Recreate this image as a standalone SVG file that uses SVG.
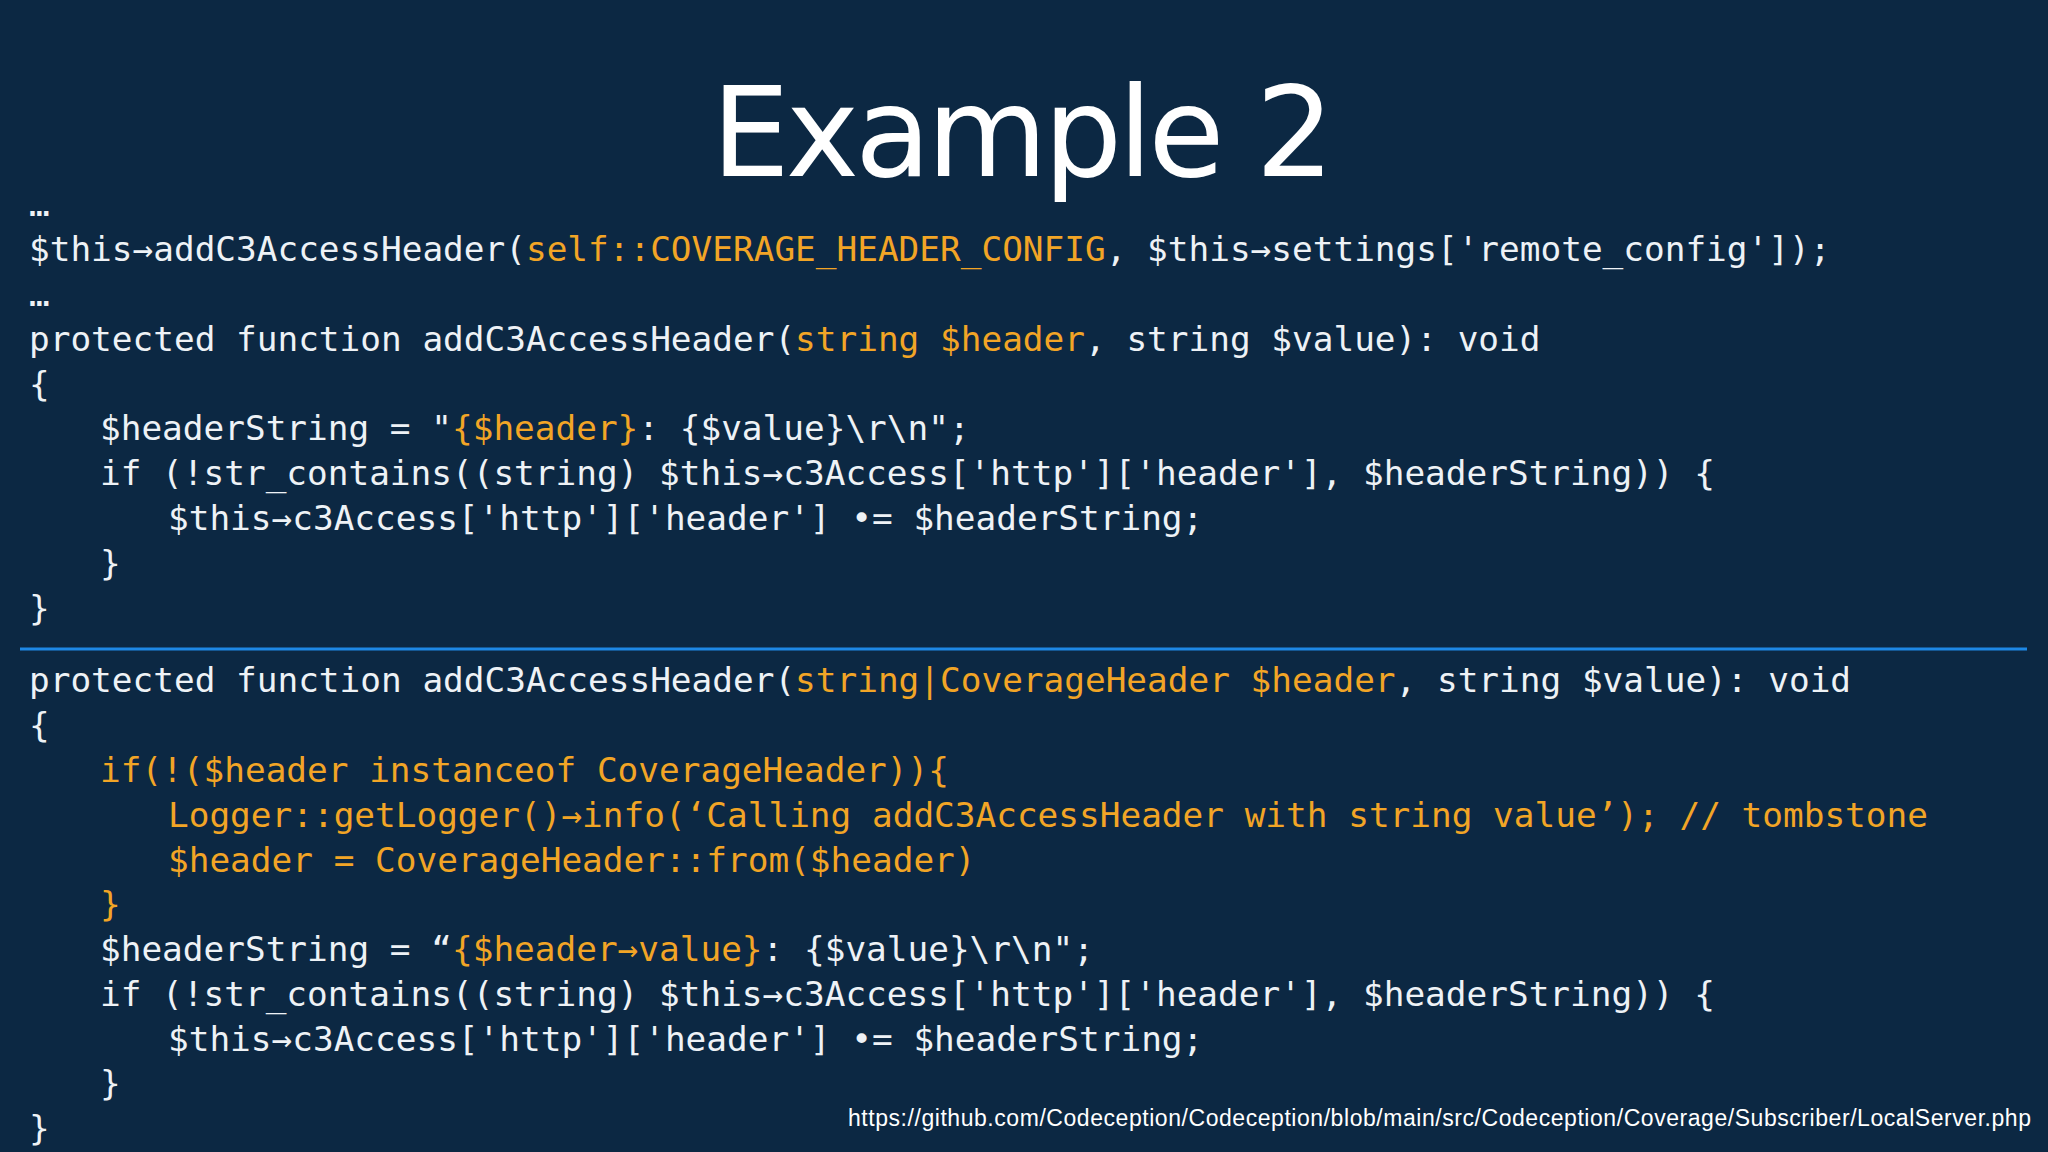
<svg xmlns="http://www.w3.org/2000/svg" width="2048" height="1152" viewBox="0 0 2048 1152">
<style>
.c{font-family:"DejaVu Sans Mono","Liberation Mono",monospace;font-size:34.4px;fill:#eef2f6;white-space:pre}
.o{fill:#f2a526}
</style>
<rect width="2048" height="1152" fill="#0c2843"/>
<g id="title"><text x="1023" y="176" text-anchor="middle" font-family="DejaVu Sans, sans-serif" font-size="124" fill="#ffffff" textLength="623">Example 2</text></g>
<g id="code-before">
<text class="c" x="29" y="216">…</text>
<text class="c" x="29" y="261">$this→addC3AccessHeader(<tspan class="o">self::COVERAGE_HEADER_CONFIG</tspan>, $this→settings['remote_config']);</text>
<text class="c" x="29" y="306">…</text>
<text class="c" x="29" y="351">protected function addC3AccessHeader(<tspan class="o">string $header</tspan>, string $value): void</text>
<text class="c" x="29" y="396">{</text>
<text class="c" x="100" y="440">$headerString = "<tspan class="o">{$header}</tspan>: {$value}\r\n";</text>
<text class="c" x="100" y="485">if (!str_contains((string) $this→c3Access['http']['header'], $headerString)) {</text>
<text class="c" x="168" y="530">$this→c3Access['http']['header'] •= $headerString;</text>
<text class="c" x="100" y="575">}</text>
<text class="c" x="29" y="620">}</text>
</g>
<g id="divider"><line x1="20" y1="649" x2="2027" y2="649" stroke="#1e88e5" stroke-width="3"/></g>
<g id="code-after">
<text class="c" x="29" y="692">protected function addC3AccessHeader(<tspan class="o">string|CoverageHeader $header</tspan>, string $value): void</text>
<text class="c" x="29" y="737">{</text>
<text class="c o" x="100" y="782">if(!($header instanceof CoverageHeader)){</text>
<text class="c o" x="168" y="827">Logger::getLogger()→info(‘Calling addC3AccessHeader with string value’); // tombstone</text>
<text class="c o" x="168" y="872">$header = CoverageHeader::from($header)</text>
<text class="c o" x="100" y="916">}</text>
<text class="c" x="100" y="961">$headerString = “<tspan class="o">{$header→value}</tspan>: {$value}\r\n";</text>
<text class="c" x="100" y="1006">if (!str_contains((string) $this→c3Access['http']['header'], $headerString)) {</text>
<text class="c" x="168" y="1051">$this→c3Access['http']['header'] •= $headerString;</text>
<text class="c" x="100" y="1095">}</text>
<text class="c" x="29" y="1140">}</text>
</g>
<g id="source"><text x="2031" y="1126" text-anchor="end" font-family="Liberation Sans, Arial, sans-serif" font-size="23" fill="#ffffff" textLength="1183">https://github.com/Codeception/Codeception/blob/main/src/Codeception/Coverage/Subscriber/LocalServer.php</text></g>
</svg>
